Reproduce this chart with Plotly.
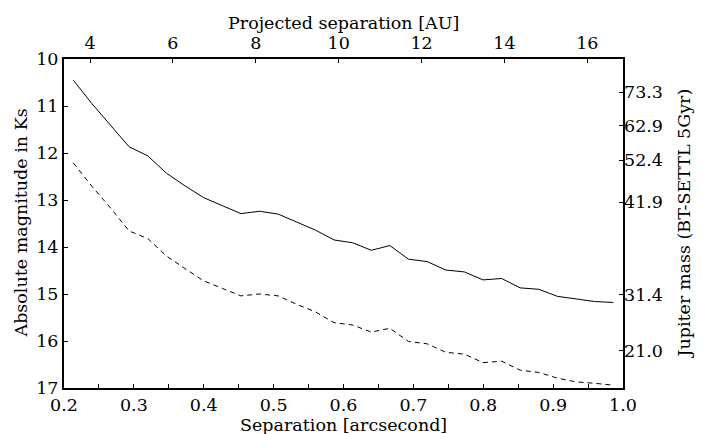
import plotly.graph_objects as go

# Data
sep_arcsec = [0.2133, 0.2400, 0.2666, 0.2933, 0.3199, 0.3466, 0.3732, 0.3999,
              0.4265, 0.4532, 0.4798, 0.5065, 0.5331, 0.5598, 0.5864, 0.6131,
              0.6397, 0.6664, 0.6930, 0.7197, 0.7463, 0.7730, 0.7996, 0.8263,
              0.8529, 0.8796, 0.9062, 0.9329, 0.9595, 0.9862]
mag_solid = [10.45, 10.95, 11.41, 11.87, 12.06, 12.43, 12.70, 12.95,
             13.12, 13.29, 13.24, 13.30, 13.47, 13.64, 13.85, 13.91,
             14.07, 13.97, 14.26, 14.31, 14.49, 14.53, 14.70, 14.67,
             14.87, 14.90, 15.05, 15.11, 15.16, 15.18]
mag_dashed = [12.21, 12.71, 13.17, 13.66, 13.82, 14.19, 14.46, 14.72,
              14.88, 15.04, 15.00, 15.04, 15.22, 15.38, 15.61, 15.66,
              15.81, 15.73, 16.01, 16.06, 16.24, 16.28, 16.46, 16.43,
              16.62, 16.67, 16.79, 16.87, 16.90, 16.94]
distance_pc = 16.86
sep_ticks = [0.2, 0.3, 0.4, 0.5, 0.6, 0.7, 0.8, 0.9, 1.0]
sep_minor = [0.25, 0.35, 0.45, 0.55, 0.65, 0.75, 0.85, 0.95]
mag_ticks = [10, 11, 12, 13, 14, 15, 16, 17]
au_ticks = [4, 6, 8, 10, 12, 14, 16]
mass_tick_mag = [10.71, 11.42, 12.15, 13.05, 15.02, 16.20]
mass_tick_labels = ["73.3", "62.9", "52.4", "41.9", "31.4", "21.0"]

FONT = "DejaVu Serif"
FS = 17.5

fig = go.Figure()
fig.add_trace(go.Scatter(x=sep_arcsec, y=mag_solid, mode="lines",
                         line=dict(color="black", width=1), hoverinfo="skip",
                         showlegend=False))
fig.add_trace(go.Scatter(x=sep_arcsec, y=mag_dashed, mode="lines",
                         line=dict(color="black", width=1, dash="5px,4px"),
                         hoverinfo="skip", showlegend=False))
# invisible trace to carry the secondary (top/right) axes
fig.add_trace(go.Scatter(x=[s * distance_pc for s in sep_arcsec], y=mag_solid,
                         xaxis="x2", yaxis="y2", mode="lines",
                         line=dict(color="rgba(0,0,0,0)", width=0),
                         hoverinfo="skip", showlegend=False))

axis_common = dict(showgrid=False, zeroline=False, ticks="inside", ticklen=4,
                   tickwidth=1, tickcolor="black", automargin=False,
                   tickfont=dict(family=FONT, size=FS, color="black"))

fig.update_layout(
    width=703, height=434,
    margin=dict(l=64, r=80, t=59, b=46, pad=0, autoexpand=False),
    paper_bgcolor="white", plot_bgcolor="white",
    font=dict(family=FONT, size=FS, color="black"),
    xaxis=dict(range=[0.2, 1.0], tickvals=sep_ticks,
               ticktext=[f"{v:.1f}" for v in sep_ticks],
               showline=True, linewidth=2, linecolor="black", mirror=True,
               minor=dict(tickvals=sep_minor, ticks="inside", ticklen=4,
                          tickcolor="black", tickwidth=1),
               **axis_common),
    yaxis=dict(range=[17, 10], tickvals=mag_ticks,
               ticktext=[str(v) for v in mag_ticks],
               showline=True, linewidth=2, linecolor="black", mirror=True,
               **axis_common),
    xaxis2=dict(overlaying="x", side="top", anchor="y",
                range=[0.2 * distance_pc, 1.0 * distance_pc],
                tickvals=au_ticks, ticktext=[str(v) for v in au_ticks],
                showline=False, ticklabelstandoff=6, **axis_common),
    yaxis2=dict(overlaying="y", side="right", anchor="x",
                range=[17, 10], tickvals=mass_tick_mag,
                ticktext=mass_tick_labels, showline=False, **axis_common),
    annotations=[
        dict(text="Separation [arcsecond]", xref="paper", yref="paper",
             x=0.5, y=0, yshift=-37, showarrow=False, yanchor="middle",
             font=dict(family=FONT, size=FS, color="black")),
        dict(text="Projected separation [AU]", xref="paper", yref="paper",
             x=0.5, y=1, yshift=36, showarrow=False, yanchor="middle",
             font=dict(family=FONT, size=FS, color="black")),
        dict(text="Absolute magnitude in Ks", xref="paper", yref="paper",
             x=0, y=0.5, xshift=-44, showarrow=False, textangle=-90,
             xanchor="center", yanchor="middle",
             font=dict(family=FONT, size=FS, color="black")),
        dict(text="Jupiter mass (BT-SETTL 5Gyr)", xref="paper", yref="paper",
             x=1, y=0.5, xshift=60, showarrow=False, textangle=-90,
             xanchor="center", yanchor="middle",
             font=dict(family=FONT, size=FS, color="black")),
    ],
)

fig.write_html(
    "out.html",
    config={"displayModeBar": False},
    post_script="document.body.style.margin='0';"
                "document.documentElement.style.overflow='hidden';",
)
